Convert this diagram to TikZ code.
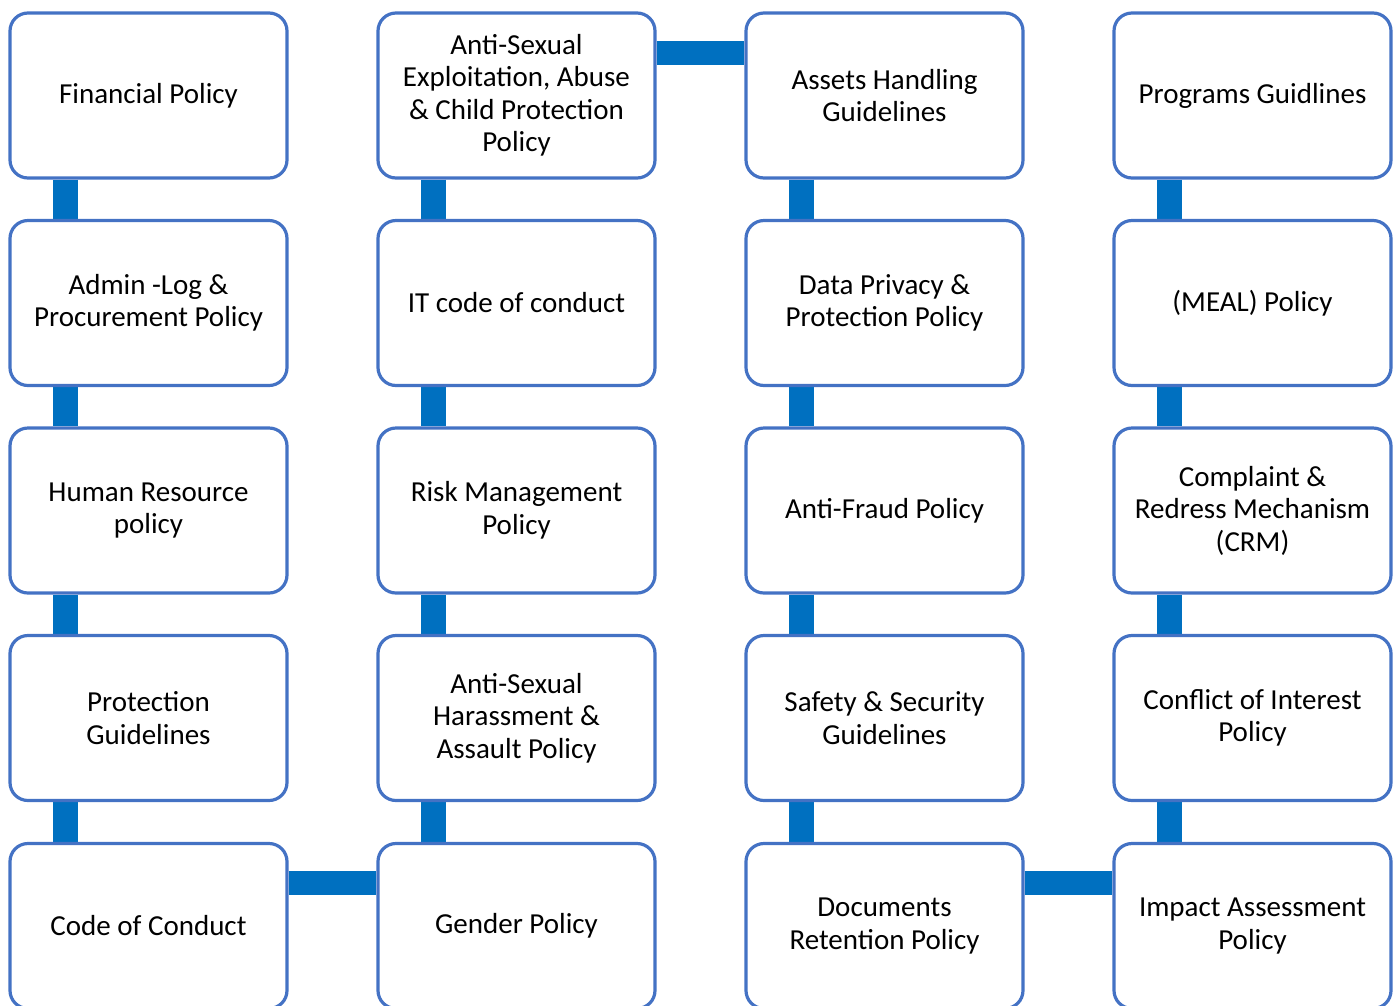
\documentclass[tikz,border=0pt]{standalone}
\usepackage{fontspec}
\setmainfont{Carlito}
\usetikzlibrary{backgrounds}
\definecolor{boxline}{HTML}{4472C4}
\definecolor{connblue}{HTML}{0070C0}
\tikzset{
  pbox/.style={draw=boxline, line width=3.2pt, fill=white, rounded corners=18pt,
    minimum width=277pt, minimum height=165pt, inner sep=0pt, align=center,
    font=\fontsize{29}{32.5}\selectfont},
  conn/.style={draw=connblue, line width=24.5pt}
}
\begin{document}
\begin{tikzpicture}[x=1pt,y=-1pt]
\useasboundingbox (0,0) rectangle (1395,1005);
% column 1
\node[pbox] (c1r1) at (148.5,95.5) {Financial Policy};
\node[pbox] (c1r2) at (148.5,303) {Admin -Log \&\\Procurement Policy};
\node[pbox] (c1r3) at (148.5,510.5) {Human Resource\\policy};
\node[pbox] (c1r4) at (148.5,718) {Protection\\Guidelines};
\node[pbox] (c1r5) at (148.5,926) {Code of Conduct};
% column 2
\node[pbox] (c2r1) at (516.5,95.5) {Anti-Sexual\\Exploitation, Abuse\\\& Child Protection\\Policy};
\node[pbox] (c2r2) at (516.5,303) {IT code of conduct};
\node[pbox] (c2r3) at (516.5,510.5) {Risk Management\\Policy};
\node[pbox] (c2r4) at (516.5,718) {Anti-Sexual\\Harassment \&\\Assault Policy};
\node[pbox] (c2r5) at (516.5,926) {Gender Policy};
% column 3
\node[pbox] (c3r1) at (884.5,95.5) {Assets Handling\\Guidelines};
\node[pbox] (c3r2) at (884.5,303) {Data Privacy \&\\Protection Policy};
\node[pbox] (c3r3) at (884.5,510.5) {Anti-Fraud Policy};
\node[pbox] (c3r4) at (884.5,718) {Safety \& Security\\Guidelines};
\node[pbox] (c3r5) at (884.5,926) {Documents\\Retention Policy};
% column 4
\node[pbox] (c4r1) at (1252.5,95.5) {Programs Guidlines};
\node[pbox] (c4r2) at (1252.5,303) {(MEAL) Policy};
\node[pbox] (c4r3) at (1252.5,510.5) {Complaint \&\\Redress Mechanism\\(CRM)};
\node[pbox] (c4r4) at (1252.5,718) {Conflict of Interest\\Policy};
\node[pbox] (c4r5) at (1252.5,926) {Impact Assessment\\Policy};
\begin{scope}[on background layer]
\foreach \c in {1,2,3,4}{
  \foreach \r/\s in {1/2,2/3,3/4,4/5}{
    \draw[conn] ([xshift=-83pt]c\c r\r.south) -- ([xshift=-83pt]c\c r\s.north);
  }
}
\draw[conn] ([yshift=42.5pt]c2r1.east) -- ([yshift=42.5pt]c3r1.west);
\draw[conn] ([yshift=43pt]c1r5.east) -- ([yshift=43pt]c2r5.west);
\draw[conn] ([yshift=43pt]c3r5.east) -- ([yshift=43pt]c4r5.west);
\end{scope}
\end{tikzpicture}
\end{document}
